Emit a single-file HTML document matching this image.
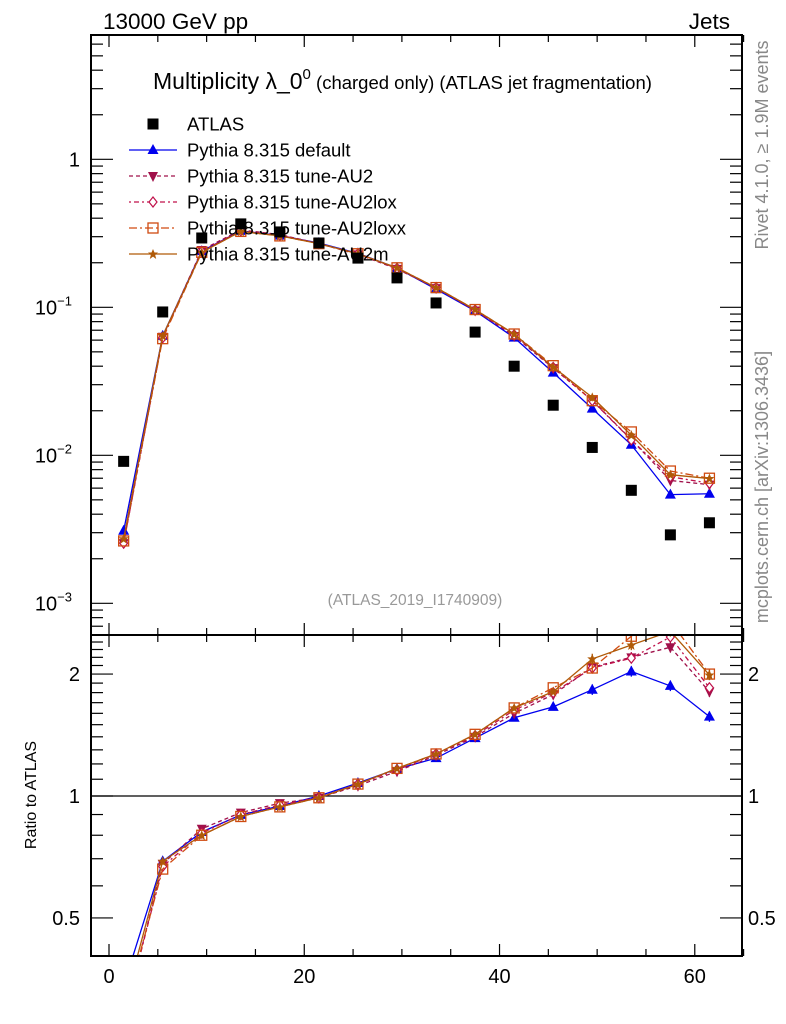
<!DOCTYPE html>
<html><head><meta charset="utf-8"><style>
html,body{margin:0;padding:0;background:#fff;}
svg{display:block;font-family:"Liberation Sans",sans-serif;}
</style></head><body>
<svg id="c" width="786" height="1024" viewBox="0 0 786 1024">
<text x="103" y="29" font-size="22.5">13000 GeV pp</text>
<text x="730" y="29" font-size="22.5" text-anchor="end">Jets</text>
<text x="153" y="89" font-size="23">Multiplicity λ_0<tspan font-size="15" dy="-10">0</tspan><tspan font-size="18.5" dy="10"> (charged only) (ATLAS jet fragmentation)</tspan></text>
<text x="415" y="605" font-size="15.5" fill="#999" text-anchor="middle">(ATLAS_2019_I1740909)</text>
<text transform="translate(768,145) rotate(-90)" font-size="18" fill="#888" text-anchor="middle">Rivet 4.1.0, ≥ 1.9M events</text>
<text transform="translate(768,487) rotate(-90)" font-size="18" fill="#888" text-anchor="middle">mcplots.cern.ch [arXiv:1306.3436]</text>
<text transform="translate(36,795) rotate(-90)" font-size="16" text-anchor="middle">Ratio to ATLAS</text>
<g id="g"></g>
</svg>
<script>
const xCenters=[1.5,5.5,9.5,13.5,17.5,21.5,25.5,29.5,33.5,37.5,41.5,45.5,49.5,53.5,57.5,61.5];
const atlasVals=[0.0091,0.093,0.294,0.366,0.323,0.272,0.215,0.158,0.107,0.068,0.040,0.0218,0.0113,0.0058,0.0029,0.0035];
const ratioDefault=[0.34,0.69,0.815,0.898,0.945,1.0,1.077,1.166,1.24,1.39,1.56,1.66,1.83,2.03,1.87,1.57];
const ratioAU2=[0.28,0.68,0.83,0.91,0.96,0.99,1.06,1.15,1.26,1.40,1.60,1.78,2.08,2.20,2.33,1.81];
const ratioAU2lox=[0.28,0.67,0.81,0.9,0.95,0.99,1.07,1.16,1.27,1.41,1.63,1.80,2.07,2.19,2.47,1.85];
const ratioAU2loxx=[0.29,0.66,0.80,0.89,0.94,0.99,1.07,1.17,1.27,1.42,1.65,1.85,2.07,2.48,2.7,2.0];
const ratioAU2m=[0.30,0.69,0.80,0.89,0.94,0.99,1.07,1.17,1.27,1.42,1.65,1.81,2.18,2.36,2.55,1.99];
const xTicks=[0,20,40,60];
const legendLabels=["ATLAS","Pythia 8.315 default","Pythia 8.315 tune-AU2","Pythia 8.315 tune-AU2lox","Pythia 8.315 tune-AU2loxx","Pythia 8.315 tune-AU2m"];

const L=91,R=742,T=35,M=635,B=956;
const sx=v=>109+v*9.763;
const sy=v=>159.3-148*Math.log10(v);
const sr=v=>796-405*Math.log10(v);
const NS="http://www.w3.org/2000/svg";
const g=document.getElementById('g');
function mk(tag,at,parent){const e=document.createElementNS(NS,tag);for(const k in at)e.setAttribute(k,at[k]);(parent||g).appendChild(e);return e;}

const defs=mk('defs',{});
const c1=mk('clipPath',{id:'cm'},defs);mk('rect',{x:L,y:T,width:R-L,height:M-T},c1);
const c2=mk('clipPath',{id:'cr'},defs);mk('rect',{x:L,y:M,width:R-L,height:B-M},c2);

const series=[
 {name:'default',r:ratioDefault,col:'#0000ee',dash:'',mk:'tri'},
 {name:'au2',r:ratioAU2,col:'#a0104a',dash:'4,3',mk:'dtri'},
 {name:'au2lox',r:ratioAU2lox,col:'#c0104a',dash:'2,3,5,3',mk:'diam'},
 {name:'au2loxx',r:ratioAU2loxx,col:'#d04a10',dash:'8,3,2,3',mk:'sq'},
 {name:'au2m',r:ratioAU2m,col:'#b05a08',dash:'',mk:'star'}
];
function marker(type,x,y,col,parent){
 let e;
 if(type==='tri')e=mk('polygon',{points:`${x},${y-6} ${x-5.5},${y+4} ${x+5.5},${y+4}`,fill:col},parent);
 else if(type==='dtri')e=mk('polygon',{points:`${x},${y+6} ${x-5},${y-4} ${x+5},${y-4}`,fill:col},parent);
 else if(type==='diam')e=mk('polygon',{points:`${x},${y-5} ${x-4},${y} ${x},${y+5} ${x+4},${y}`,fill:'#fff',stroke:col,'stroke-width':1.2},parent);
 else if(type==='sq')e=mk('rect',{x:x-5,y:y-5,width:10,height:10,fill:'none',stroke:col,'stroke-width':1.3},parent);
 else if(type==='star')e=mk('polygon',{points:`${x},${y-5} ${x+1.5},${y-1.5} ${x+5},${y-1.5} ${x+2.2},${y+1} ${x+3.2},${y+5} ${x},${y+2.6} ${x-3.2},${y+5} ${x-2.2},${y+1} ${x-5},${y-1.5} ${x-1.5},${y-1.5}`,fill:col},parent);
 else if(type==='box')e=mk('rect',{x:x-5.5,y:y-5.5,width:11,height:11,fill:'#000'},parent);
 return e;
}

const gm=mk('g',{'clip-path':'url(#cm)'});


series.forEach(s=>{
 const vals=s.r.map((r,i)=>r*atlasVals[i]);
 const pl=mk('polyline',{points:vals.map((v,i)=>sx(xCenters[i])+','+sy(v)).join(' '),fill:'none',stroke:s.col,'stroke-width':1.3,'stroke-dasharray':s.dash},gm);
 
 
 vals.forEach((v,i)=>{const m=marker(s.mk,sx(xCenters[i]),sy(v),s.col,gm);
  
  });
});
atlasVals.forEach((v,i)=>{const m=marker('box',sx(xCenters[i]),sy(v),'#000',gm);
 
 });

const gr=mk('g',{'clip-path':'url(#cr)'});


const one=mk('line',{x1:L,x2:R,y1:sr(1),y2:sr(1),stroke:'#000','stroke-width':1.3},gr);


series.forEach(s=>{
 const pl=mk('polyline',{points:s.r.map((v,i)=>sx(xCenters[i])+','+sr(v)).join(' '),fill:'none',stroke:s.col,'stroke-width':1.3,'stroke-dasharray':s.dash},gr);
 
 
 s.r.forEach((v,i)=>{
  const x=sx(xCenters[i]),y=sr(v);
  if(i>=12){const e=mk('line',{x1:x,x2:x,y1:sr(v*1.03),y2:sr(v/1.03),stroke:s.col,'stroke-width':1.3},gr);
   
   }
  const m=marker(s.mk,x,y,s.col,gr);
  
  });
});

const f1=mk('rect',{x:L,y:T,width:R-L,height:M-T,fill:'none',stroke:'#000','stroke-width':2});

const f2=mk('rect',{x:L,y:M,width:R-L,height:B-M,fill:'none',stroke:'#000','stroke-width':2});


for(let v=0;v<=65;v+=5){
 const x=sx(v),maj=(v%20===0),len=maj?12:7;
 [[T,1],[M,-1],[M,1],[B,-1]].forEach(([y,d])=>{
  const t=mk('line',{x1:x,x2:x,y1:y,y2:y+d*len,stroke:'#000','stroke-width':1.2});
  });
}
xTicks.forEach(v=>{const t=mk('text',{x:sx(v),y:983,'font-size':20,'text-anchor':'middle'});t.textContent=v;
 });

for(let d=-4;d<=0;d++){for(let k=1;k<=9;k++){
 const v=k*Math.pow(10,d),y=sy(v);if(y<T||y>M)continue;
 const len=k===1?22:12;
 [[L,1],[R,-1]].forEach(([x,s])=>{const t=mk('line',{x1:x,x2:x+s*len,y1:y,y2:y,stroke:'#000','stroke-width':1.2});
  });
}}
const ylab=[[1,'1',''],[0.1,'10','−1'],[0.01,'10','−2'],[0.001,'10','−3']];
ylab.forEach(([v,b,e])=>{const t=mk('text',{x:e?72:80,y:sy(v)+7,'font-size':20,'text-anchor':'end'});
 t.textContent=b; if(e){const ts=mk('tspan',{'font-size':13,dy:-9},t);ts.textContent=e;}
 });

[0.4,0.5,0.6,0.7,0.8,0.9,1,1.1,1.2,1.3,1.4,1.5,1.6,1.7,1.8,1.9,2,2.1,2.2,2.3,2.4,2.5].forEach(v=>{
 const y=sr(v);if(y<M-0.5||y>B)return;
 const maj=[0.5,1,2].includes(v),len=maj?22:12;
 [[L,1],[R,-1]].forEach(([x,s])=>{const t=mk('line',{x1:x,x2:x+s*len,y1:y,y2:y,stroke:'#000','stroke-width':1.2});
  });
});
[[2,'2'],[1,'1'],[0.5,'0.5']].forEach(([v,s])=>{
 const t=mk('text',{x:80,y:sr(v)+7,'font-size':20,'text-anchor':'end'});t.textContent=s;
 
 const t2=mk('text',{x:748,y:sr(v)+7,'font-size':20});t2.textContent=s;
 
});

const ly=[124,150,176,202,228,254];
legendLabels.forEach((lab,i)=>{
 const lg=mk('g',{});
 
 
 if(i===0){marker('box',153,ly[i],'#000',lg);}
 else{const s=series[i-1];
  mk('line',{x1:129,x2:177,y1:ly[i],y2:ly[i],stroke:s.col,'stroke-width':1.3,'stroke-dasharray':s.dash},lg);
  marker(s.mk,153,ly[i],s.col,lg);}
 const t=mk('text',{x:187,y:ly[i]+6.5,'font-size':18.5},lg);t.textContent=lab;
});
</script>
</body></html>
